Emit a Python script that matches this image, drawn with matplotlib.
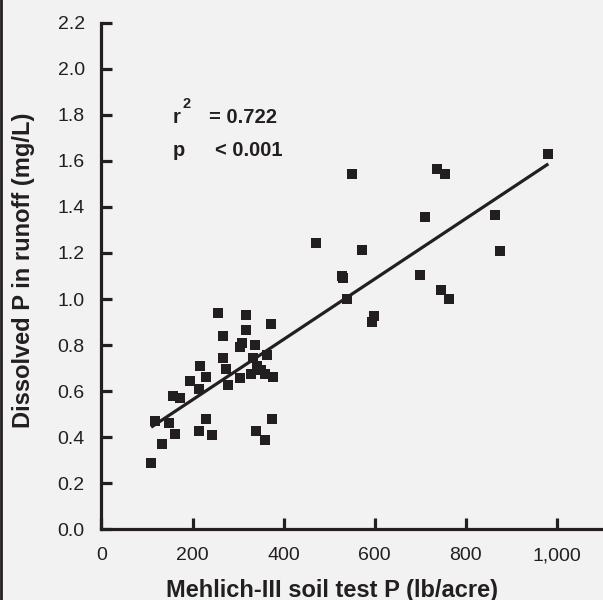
import numpy as np
import matplotlib
matplotlib.use('Agg')
import matplotlib.pyplot as plt
from matplotlib.ticker import FuncFormatter
from matplotlib.lines import Line2D

plt.rcParams['font.family'] = ['Liberation Sans', 'DejaVu Sans']

# Mehlich-III soil test P (lb/acre) and dissolved P in runoff (mg/L)
soil_p = [256, 318, 373, 318, 267, 309, 305, 338, 267, 333, 364, 217, 274, 342,
          230, 303, 329, 351, 360, 377, 195, 213, 278, 158, 173, 118, 149, 230,
          375, 162, 215, 243, 340, 360, 133, 109,
          981, 551, 737, 755, 711, 865, 472, 573, 874, 527, 531, 700, 538, 746,
          764, 599, 593]
runoff_p = [0.94, 0.93, 0.89, 0.865, 0.84, 0.81, 0.79, 0.80, 0.745, 0.745, 0.755,
            0.71, 0.695, 0.71, 0.66, 0.655, 0.675, 0.69, 0.675, 0.66, 0.645, 0.61,
            0.625, 0.58, 0.57, 0.47, 0.46, 0.48, 0.48, 0.415, 0.425, 0.41, 0.425,
            0.39, 0.37, 0.29,
            1.63, 1.545, 1.565, 1.545, 1.355, 1.365, 1.245, 1.215, 1.21, 1.10,
            1.09, 1.105, 1.00, 1.04, 1.00, 0.925, 0.90]

x_ticks = [0, 200, 400, 600, 800, 1000]
y_ticks = [0.0, 0.2, 0.4, 0.6, 0.8, 1.0, 1.2, 1.4, 1.6, 1.8, 2.0, 2.2]

dark = '#231f20'
bg = '#f2f2f2'

x = np.array(soil_p)
y = np.array(runoff_p)

fig = plt.figure(figsize=(6.03, 6.0), dpi=100, facecolor=bg)
ax = fig.add_axes([0.1683, 0.1178, 0.8317, 0.8444])
ax.set_facecolor(bg)

ax.plot(x, y, 's', color=dark, markersize=6.5, markeredgewidth=0)

# regression line
slope, icpt = np.polyfit(x, y, 1)
xx = np.array([x.min(), x.max()])
ax.plot(xx, slope * xx + icpt, color=dark, lw=2.3, solid_capstyle='butt')

ax.set_xlim(0, 1101)
ax.set_ylim(0, 2.2)
ax.set_xticks(x_ticks)
ax.set_yticks(y_ticks)
ax.xaxis.set_major_formatter(FuncFormatter(lambda v, p: '{:,.0f}'.format(v)))
ax.yaxis.set_major_formatter(FuncFormatter(lambda v, p: '%.1f' % v))

for s in ['top', 'right']:
    ax.spines[s].set_visible(False)
for s in ['left', 'bottom']:
    ax.spines[s].set_linewidth(2.3)
    ax.spines[s].set_color(dark)

ax.tick_params(direction='in', length=8, width=2.3, color=dark,
               labelsize=14, labelcolor=dark)
ax.tick_params(axis='y', pad=12)
ax.tick_params(axis='x', pad=13)

# stats text
ax.text(156, 1.765, 'r', fontsize=14.5, fontweight='bold', color=dark)
ax.text(178, 1.83, '2', fontsize=10.5, fontweight='bold', color=dark)
ax.text(236, 1.765, '= 0.722', fontsize=14.5, fontweight='bold', color=dark)
ax.text(156, 1.623, 'p', fontsize=14.5, fontweight='bold', color=dark)
ax.text(249, 1.623, '< 0.001', fontsize=14.5, fontweight='bold', color=dark)

fig.text(331.5 / 603, 3.0 / 600, 'Mehlich-III soil test P (lb/acre)',
         fontsize=17, fontweight='bold', color=dark, ha='center', va='baseline')
fig.text(24 / 603, 0.55, 'Dissolved P in runoff (mg/L)', rotation=90,
         fontsize=17, fontweight='bold', color=dark, ha='center', va='center')

# left frame edge
fig.add_artist(Line2D([0.002, 0.002], [0, 1], transform=fig.transFigure,
                      color=dark, lw=2))

fig.savefig('out.png', dpi=100, facecolor=bg)
